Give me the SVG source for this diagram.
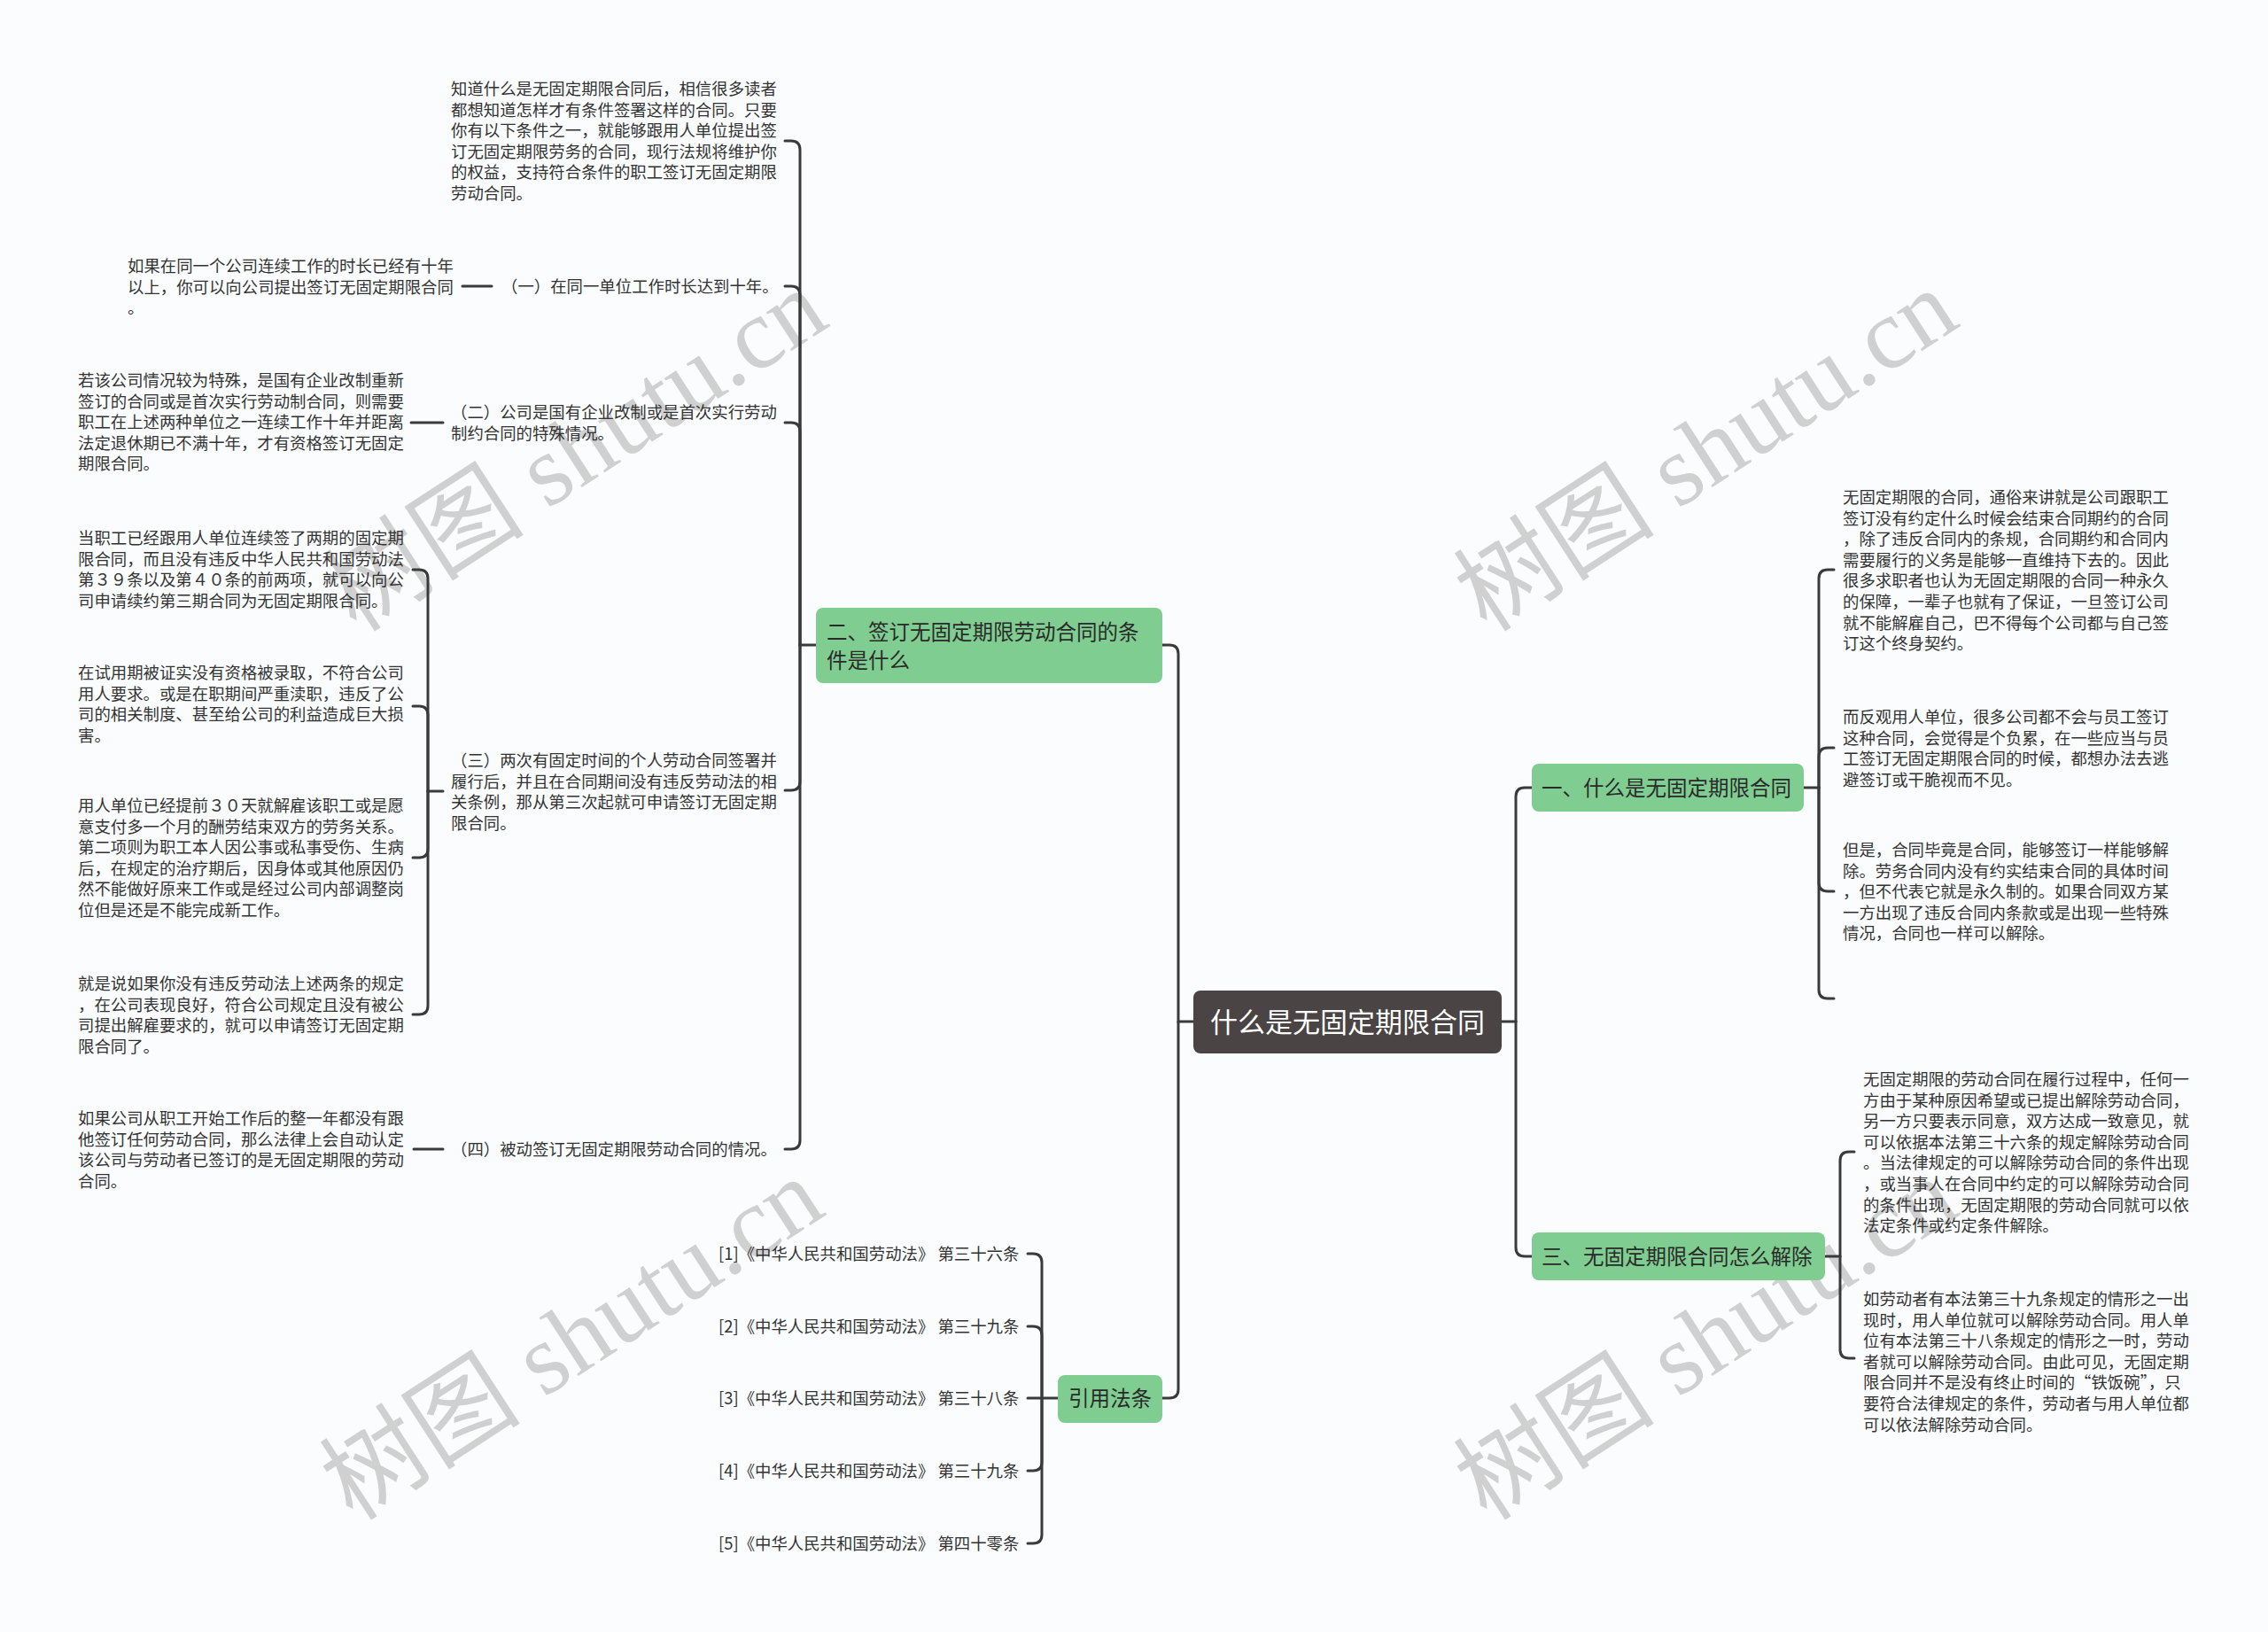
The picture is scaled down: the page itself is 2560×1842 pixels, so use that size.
<svg xmlns="http://www.w3.org/2000/svg" width="2560" height="1842" viewBox="0 0 2560 1842">
<style>
.bg{fill:#fafcfd}
.wm{font-family:"Liberation Serif","Noto Sans CJK SC",serif;font-size:114px;fill:#d0d0d0;text-anchor:middle}
.c{fill:none;stroke:#3a3a3a;stroke-width:3;stroke-linecap:round}
.t{font-family:"Noto Sans CJK SC","Noto Sans",sans-serif;font-size:18.4px;fill:#333333}
.g{fill:#80cd91}
.gt{font-family:"Noto Sans CJK SC","Noto Sans",sans-serif;font-size:23.5px;fill:#2a2a2a}
.root{fill:#4a4444}
.rt{font-family:"Noto Sans CJK SC","Noto Sans",sans-serif;font-size:31px;fill:#ffffff;text-anchor:middle}
</style>
<rect class="bg" x="0" y="0" width="2560" height="1842"/>
<g id="watermarks">
<text class="wm" transform="translate(650,509) rotate(-33)" y="38">树图 shutu.cn</text>
<text class="wm" transform="translate(1926,509) rotate(-33)" y="38">树图 shutu.cn</text>
<text class="wm" transform="translate(646,1512) rotate(-33)" y="38">树图 shutu.cn</text>
<text class="wm" transform="translate(1926,1512) rotate(-33)" y="38">树图 shutu.cn</text>
</g>
<g id="connectors">
<path class="c" d="M1312 728 H1320 Q1330 728 1330 738 V1153 H1347"/>
<path class="c" d="M1312 1578 H1320 Q1330 1578 1330 1568 V1153"/>
<path class="c" d="M1695 1153 H1711"/>
<path class="c" d="M1729 889 H1721 Q1711 889 1711 899 V1153"/>
<path class="c" d="M1729 1418 H1721 Q1711 1418 1711 1408 V1153"/>
<path class="c" d="M903 728 H921"/>
<path class="c" d="M886 159 H893 Q903 159 903 169 V728"/>
<path class="c" d="M886 323 H893 Q903 323 903 333 V728"/>
<path class="c" d="M886 477 H893 Q903 477 903 487 V728"/>
<path class="c" d="M886 892 H893 Q903 892 903 882 V728"/>
<path class="c" d="M886 1297 H893 Q903 1297 903 1287 V728"/>
<path class="c" d="M522 323 H555"/>
<path class="c" d="M464 477 H500"/>
<path class="c" d="M467 1297 H500"/>
<path class="c" d="M483 893 H500"/>
<path class="c" d="M466 643 H473 Q483 643 483 653 V893"/>
<path class="c" d="M466 797 H473 Q483 797 483 807 V893"/>
<path class="c" d="M466 968 H473 Q483 968 483 958 V893"/>
<path class="c" d="M466 1145 H473 Q483 1145 483 1135 V893"/>
<path class="c" d="M1176 1578 H1194"/>
<path class="c" d="M1160 1415 H1166 Q1176 1415 1176 1425 V1578"/>
<path class="c" d="M1160 1497 H1166 Q1176 1497 1176 1507 V1578"/>
<path class="c" d="M1160 1578 H1176"/>
<path class="c" d="M1160 1660 H1166 Q1176 1660 1176 1650 V1578"/>
<path class="c" d="M1160 1742 H1166 Q1176 1742 1176 1732 V1578"/>
<path class="c" d="M2036 889 H2053"/>
<path class="c" d="M2070 643 H2063 Q2053 643 2053 653 V889"/>
<path class="c" d="M2070 844 H2063 Q2053 844 2053 854 V889"/>
<path class="c" d="M2070 1006 H2063 Q2053 1006 2053 996 V889"/>
<path class="c" d="M2070 1127 H2063 Q2053 1127 2053 1117 V889"/>
<path class="c" d="M2060 1418 H2077"/>
<path class="c" d="M2093 1300 H2087 Q2077 1300 2077 1310 V1418"/>
<path class="c" d="M2093 1533 H2087 Q2077 1533 2077 1523 V1418"/>
</g>
<g id="root">
<rect class="root" x="1347" y="1118" width="348" height="71" rx="8"/>
<text class="rt" x="1521" y="1165">什么是无固定期限合同</text>
</g>
<g id="n2">
<rect class="g" x="921" y="686" width="391" height="85" rx="8"/>
<text class="gt" x="933" y="722">二、签订无固定期限劳动合同的条</text>
<text class="gt" x="933" y="754">件是什么</text>
</g>
<g id="nref">
<rect class="g" x="1194" y="1552" width="118" height="54" rx="8"/>
<text class="gt" x="1253" y="1587" text-anchor="middle">引用法条</text>
</g>
<g id="n1">
<rect class="g" x="1729" y="862" width="307" height="54" rx="8"/>
<text class="gt" x="1740" y="898">一、什么是无固定期限合同</text>
</g>
<g id="n3">
<rect class="g" x="1729" y="1391" width="331" height="54" rx="8"/>
<text class="gt" x="1740" y="1427">三、无固定期限合同怎么解除</text>
</g>
<g id="n2-intro">
<text class="t" x="509" y="107">知道什么是无固定期限合同后，相信很多读者</text>
<text class="t" x="509" y="130.6">都想知道怎样才有条件签署这样的合同。只要</text>
<text class="t" x="509" y="154.2">你有以下条件之一，就能够跟用人单位提出签</text>
<text class="t" x="509" y="177.8">订无固定期限劳务的合同，现行法规将维护你</text>
<text class="t" x="509" y="201.4">的权益，支持符合条件的职工签订无固定期限</text>
<text class="t" x="509" y="225">劳动合同。</text>
</g>
<g id="c1">
<text class="t" x="566" y="330">（一）在同一单位工作时长达到十年。</text>
</g>
<g id="c1-detail">
<text class="t" x="144" y="307">如果在同一个公司连续工作的时长已经有十年</text>
<text class="t" x="144" y="330.6">以上，你可以向公司提出签订无固定期限合同</text>
<text class="t" x="144" y="354.2">。</text>
</g>
<g id="c2">
<text class="t" x="509" y="472">（二）公司是国有企业改制或是首次实行劳动</text>
<text class="t" x="509" y="495.6">制约合同的特殊情况。</text>
</g>
<g id="c2-detail">
<text class="t" x="88" y="436">若该公司情况较为特殊，是国有企业改制重新</text>
<text class="t" x="88" y="459.6">签订的合同或是首次实行劳动制合同，则需要</text>
<text class="t" x="88" y="483.2">职工在上述两种单位之一连续工作十年并距离</text>
<text class="t" x="88" y="506.8">法定退休期已不满十年，才有资格签订无固定</text>
<text class="t" x="88" y="530.4">期限合同。</text>
</g>
<g id="c3">
<text class="t" x="509" y="865">（三）两次有固定时间的个人劳动合同签署并</text>
<text class="t" x="509" y="888.6">履行后，并且在合同期间没有违反劳动法的相</text>
<text class="t" x="509" y="912.2">关条例，那从第三次起就可申请签订无固定期</text>
<text class="t" x="509" y="935.8">限合同。</text>
</g>
<g id="c3-a">
<text class="t" x="88" y="614">当职工已经跟用人单位连续签了两期的固定期</text>
<text class="t" x="88" y="637.6">限合同，而且没有违反中华人民共和国劳动法</text>
<text class="t" x="88" y="661.2">第３９条以及第４０条的前两项，就可以向公</text>
<text class="t" x="88" y="684.8">司申请续约第三期合同为无固定期限合同。</text>
</g>
<g id="c3-b">
<text class="t" x="88" y="766">在试用期被证实没有资格被录取，不符合公司</text>
<text class="t" x="88" y="789.6">用人要求。或是在职期间严重渎职，违反了公</text>
<text class="t" x="88" y="813.2">司的相关制度、甚至给公司的利益造成巨大损</text>
<text class="t" x="88" y="836.8">害。</text>
</g>
<g id="c3-c">
<text class="t" x="88" y="916">用人单位已经提前３０天就解雇该职工或是愿</text>
<text class="t" x="88" y="939.6">意支付多一个月的酬劳结束双方的劳务关系。</text>
<text class="t" x="88" y="963.2">第二项则为职工本人因公事或私事受伤、生病</text>
<text class="t" x="88" y="986.8">后，在规定的治疗期后，因身体或其他原因仍</text>
<text class="t" x="88" y="1010.4">然不能做好原来工作或是经过公司内部调整岗</text>
<text class="t" x="88" y="1034">位但是还是不能完成新工作。</text>
</g>
<g id="c3-d">
<text class="t" x="88" y="1117">就是说如果你没有违反劳动法上述两条的规定</text>
<text class="t" x="88" y="1140.6">，在公司表现良好，符合公司规定且没有被公</text>
<text class="t" x="88" y="1164.2">司提出解雇要求的，就可以申请签订无固定期</text>
<text class="t" x="88" y="1187.8">限合同了。</text>
</g>
<g id="c4">
<text class="t" x="509" y="1304">（四）被动签订无固定期限劳动合同的情况。</text>
</g>
<g id="c4-detail">
<text class="t" x="88" y="1269">如果公司从职工开始工作后的整一年都没有跟</text>
<text class="t" x="88" y="1292.6">他签订任何劳动合同，那么法律上会自动认定</text>
<text class="t" x="88" y="1316.2">该公司与劳动者已签订的是无固定期限的劳动</text>
<text class="t" x="88" y="1339.8">合同。</text>
</g>
<g id="refs">
<text class="t" x="811" y="1422">[1]《中华人民共和国劳动法》 第三十六条</text>
<text class="t" x="811" y="1504">[2]《中华人民共和国劳动法》 第三十九条</text>
<text class="t" x="811" y="1585">[3]《中华人民共和国劳动法》 第三十八条</text>
<text class="t" x="811" y="1667">[4]《中华人民共和国劳动法》 第三十九条</text>
<text class="t" x="811" y="1749">[5]《中华人民共和国劳动法》 第四十零条</text>
</g>
<g id="n1-a">
<text class="t" x="2080" y="568">无固定期限的合同，通俗来讲就是公司跟职工</text>
<text class="t" x="2080" y="591.6">签订没有约定什么时候会结束合同期约的合同</text>
<text class="t" x="2080" y="615.2">，除了违反合同内的条规，合同期约和合同内</text>
<text class="t" x="2080" y="638.8">需要履行的义务是能够一直维持下去的。因此</text>
<text class="t" x="2080" y="662.4">很多求职者也认为无固定期限的合同一种永久</text>
<text class="t" x="2080" y="686">的保障，一辈子也就有了保证，一旦签订公司</text>
<text class="t" x="2080" y="709.6">就不能解雇自己，巴不得每个公司都与自己签</text>
<text class="t" x="2080" y="733.2">订这个终身契约。</text>
</g>
<g id="n1-b">
<text class="t" x="2080" y="816">而反观用人单位，很多公司都不会与员工签订</text>
<text class="t" x="2080" y="839.6">这种合同，会觉得是个负累，在一些应当与员</text>
<text class="t" x="2080" y="863.2">工签订无固定期限合同的时候，都想办法去逃</text>
<text class="t" x="2080" y="886.8">避签订或干脆视而不见。</text>
</g>
<g id="n1-c">
<text class="t" x="2080" y="966">但是，合同毕竟是合同，能够签订一样能够解</text>
<text class="t" x="2080" y="989.6">除。劳务合同内没有约实结束合同的具体时间</text>
<text class="t" x="2080" y="1013.2">，但不代表它就是永久制的。如果合同双方某</text>
<text class="t" x="2080" y="1036.8">一方出现了违反合同内条款或是出现一些特殊</text>
<text class="t" x="2080" y="1060.4">情况，合同也一样可以解除。</text>
</g>
<g id="n3-a">
<text class="t" x="2103" y="1225">无固定期限的劳动合同在履行过程中，任何一</text>
<text class="t" x="2103" y="1248.6">方由于某种原因希望或已提出解除劳动合同，</text>
<text class="t" x="2103" y="1272.2">另一方只要表示同意，双方达成一致意见，就</text>
<text class="t" x="2103" y="1295.8">可以依据本法第三十六条的规定解除劳动合同</text>
<text class="t" x="2103" y="1319.4">。当法律规定的可以解除劳动合同的条件出现</text>
<text class="t" x="2103" y="1343">，或当事人在合同中约定的可以解除劳动合同</text>
<text class="t" x="2103" y="1366.6">的条件出现，无固定期限的劳动合同就可以依</text>
<text class="t" x="2103" y="1390.2">法定条件或约定条件解除。</text>
</g>
<g id="n3-b">
<text class="t" x="2103" y="1473">如劳动者有本法第三十九条规定的情形之一出</text>
<text class="t" x="2103" y="1496.6">现时，用人单位就可以解除劳动合同。用人单</text>
<text class="t" x="2103" y="1520.2">位有本法第三十八条规定的情形之一时，劳动</text>
<text class="t" x="2103" y="1543.8">者就可以解除劳动合同。由此可见，无固定期</text>
<text class="t" x="2103" y="1567.4">限合同并不是没有终止时间的“铁饭碗”，只</text>
<text class="t" x="2103" y="1591">要符合法律规定的条件，劳动者与用人单位都</text>
<text class="t" x="2103" y="1614.6">可以依法解除劳动合同。</text>
</g>
</svg>
